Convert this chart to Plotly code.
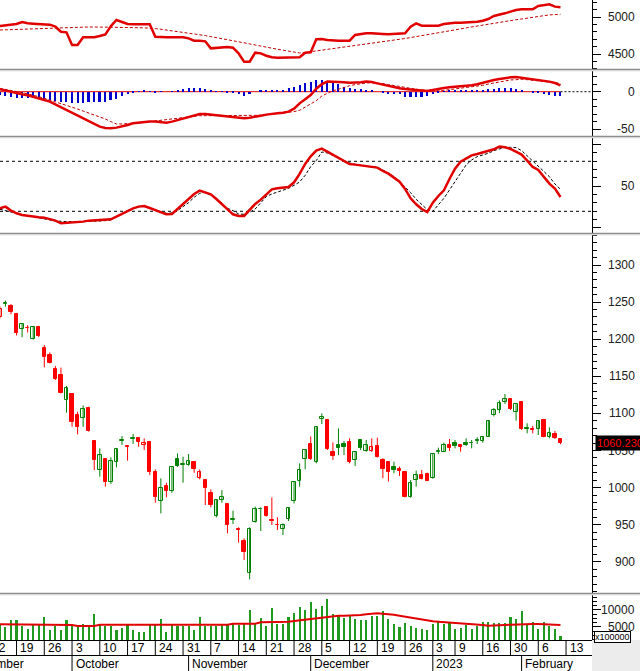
import plotly.graph_objects as go

W, H = 640, 671
AX_X = 592                      # pixel x of the right-hand axis line
X_RANGE = [2.02, 108.68]        # visible trading-day index range

# ---------------- data (trading-day index 0 = 12 Sep 2022, 103 = 10 Feb 2023) -------------
days = list(range(2, 104))
prev_close = 1245.0

opens = [1230, 1248, 1245.2, 1234, 1213.7, 1215.5, 1200.7, 1216.8, 1187.7, 1178.6,
         1159.8, 1151.8, 1118, 1126, 1097.8, 1093.4, 1107.7, 1062.8, 1023.7, 1038.6,
         1008, 1035, 1063.5, 1055.8, 1065.8, 1066.6, 1057.6, 1061.9, 1021.4, 981.9,
         1002, 995.8, 1038, 1030.5, 1030.4, 1034.4, 1012.5, 1010.2, 993.1, 961.7,
         983.3, 977.8, 956.5, 944.5, 928.1, 884.5, 954.1, 971.5, 973.4, 956,
         950, 943.8, 957.2, 981.9, 1009.3, 1038.2, 1059.1, 1034.2, 1091.9, 1091,
         1047.4, 1057.3, 1058.7, 1061.4, 1036.8, 1064.2, 1049.7, 1049.7, 1056, 1037.3,
         1035, 1027.5, 1024.8, 1021.6, 987, 1010.3, 1017, 1018.4, 1012.5, 1048.5,
         1048.4, 1057.4, 1060.6, 1057, 1060.6, 1060, 1063, 1063.3, 1068.7, 1097.3,
         1104, 1115.8, 1119.4, 1102.3, 1115.4, 1081, 1079, 1078.6, 1091.2, 1068.7,
         1072.3, 1066]
highs = [1244, 1252, 1247.4, 1235.5, 1221, 1219, 1216.5, 1218, 1192.2, 1182.2,
         1163.8, 1161.8, 1136.9, 1126.5, 1102.3, 1110.8, 1109, 1064.2, 1052.9, 1039,
         1040.7, 1052, 1069.6, 1057, 1072.3, 1067.5, 1066.4, 1062.5, 1024.5, 1012.5,
         1006.6, 1028.5, 1046.1, 1041.6, 1045.2, 1035, 1024.5, 1010.5, 997.6, 983.5,
         996.7, 978, 968.9, 946.5, 931.7, 946.5, 974.3, 973.4, 975.2, 986.8,
         959.9, 951.8, 973, 1007.5, 1032.7, 1051, 1068.9, 1081.5, 1100, 1091.5,
         1060.9, 1079.8, 1062.7, 1066.4, 1049, 1064.5, 1064.1, 1066.4, 1067.3, 1039.5,
         1035.5, 1035, 1028.4, 1022, 1010.3, 1022.9, 1023.7, 1020.2, 1045.5, 1053.8,
         1060.6, 1065.5, 1064.2, 1058.8, 1066.4, 1064.2, 1067.8, 1069.6, 1090, 1107.2,
         1117.5, 1126.1, 1120.3, 1112.5, 1116.3, 1086.7, 1083.1, 1090.5, 1092.6, 1081.3,
         1076.4, 1066.5]
lows = [1228, 1244, 1233.5, 1205, 1202.6, 1209, 1199.5, 1203, 1162, 1167.4,
        1145, 1127, 1101, 1082, 1071.7, 1082, 1075.4, 1023.7, 1014.7, 1001.3,
        1004.9, 1027.3, 1057.5, 1036.3, 1058.9, 1055, 1050.8, 1016.9, 979.6, 965.3,
        986.8, 993.1, 1028.1, 1006.6, 1029.5, 1020, 1011.1, 976.5, 973.4, 959.9,
        979.6, 938.3, 950.9, 925.8, 902.5, 876.4, 952.7, 941.5, 960.8, 949.6,
        942.9, 936.1, 955, 978.7, 1001.3, 1024.7, 1037.3, 1032.7, 1085.6, 1050.6,
        1037.3, 1043.9, 1043.9, 1032.7, 1029.2, 1050.6, 1048.3, 1048.3, 1040.5, 1012.6,
        1008.2, 1019.4, 1015.8, 987, 986.5, 1001.3, 1011, 1008.5, 1012, 1045.3,
        1048, 1049.3, 1052.9, 1048.4, 1056.1, 1052.9, 1058.8, 1060.6, 1068.5, 1095.9,
        1100.4, 1112.7, 1104.5, 1090.2, 1077.7, 1073.2, 1073.2, 1070.9, 1067.8, 1066.4,
        1065.5, 1058.5]
closes = [1241, 1248.6, 1236.2, 1208, 1220, 1214.7, 1215.9, 1204.7, 1176.4, 1168.3,
          1146, 1127.9, 1133.8, 1088.8, 1081.2, 1105.9, 1076.7, 1037.2, 1043.9, 1008,
          1035.8, 1051.6, 1064.2, 1055.2, 1066.4, 1061.8, 1060.7, 1021.4, 987.7, 999,
          995.8, 1028.1, 1029.5, 1031.3, 1035.3, 1025.4, 1020.6, 999.9, 976.5, 983.3,
          986.8, 950, 957.2, 942.9, 913.7, 943.8, 970.7, 971, 961.7, 955.4,
          949.1, 950, 972.1, 1007.1, 1023.7, 1050.8, 1038.2, 1081.4, 1094.6, 1051.5,
          1043, 1052.8, 1054.2, 1034.5, 1048.5, 1052.9, 1057.3, 1054.2, 1040.8, 1025.2,
          1021.6, 1023.9, 1022.5, 987.9, 1006.7, 1017, 1011.6, 1008.9, 1045.3, 1049.3,
          1057.4, 1053.8, 1056.5, 1055.2, 1057.4, 1060.6, 1063.7, 1067.8, 1089.8, 1104.9,
          1113.9, 1119.4, 1105.4, 1112.2, 1078.6, 1079.3, 1078, 1090.3, 1068.7, 1073.2,
          1066.4, 1060.23]

# volume, units of 100000 shares
volume = [5600, 5000, 6950, 7150, 5400, 4400, 5500, 5700, 7950, 4050,
          5400, 4050, 6950, 5700, 5400, 5990, 5700, 8800, 5700, 5400,
          5200, 4050, 4700, 5700, 4250, 3450, 3450, 5990, 5700, 7350,
          3450, 5600, 5400, 5400, 5400, 4050, 7950, 5400, 5400, 5400,
          5990, 5990, 5990, 5600, 5990, 10100, 5990, 7650, 5400, 10600,
          5990, 5990, 7950,
          9020, 10780, 9990, 12450, 10290, 11170, 13230, 8820, 8330, 7740,
          8530, 7350, 7060, 7060, 8330, 8330, 9700, 7350, 5780, 5100,
          6080, 5390, 4800, 4410, 4120, 5780, 6760, 5780, 6370, 4410,
          4800, 5590, 4410, 5390, 6570, 6370, 6080, 6080, 6080, 8040,
          7250, 9700, 5780, 6370, 4410, 6370, 5390, 4410, 2350]
volume_ma = [5780, 5780, 5780, 5780, 5780, 5780,
             5590, 5590, 5590, 5590, 5590, 5590, 5590, 5590,
             5290, 5290, 5290, 5290,
             5680, 5680, 5680, 5680, 5680, 5680, 5680, 5680, 5680, 5680, 5680, 5680,
             5680, 5680, 5680, 5680, 5680, 5680, 5680, 5680, 5680, 5680, 5680, 5680,
             5980, 5980, 5980, 5980, 5980,
             6370, 6370, 6370, 6370, 6370,
             6570, 6760, 6960, 7250, 7550, 7740, 7940, 8130, 8230, 8330,
             8330, 8330, 8330, 8530, 8720, 8920, 9020, 8920, 8820, 8620,
             8330, 8040, 7740, 7350, 7060, 6760, 6660, 6570, 6470, 6370,
             6270, 6080, 5880, 5780, 5680, 5590, 5390, 5390, 5490, 5590,
             5680, 5780, 5880, 5880, 5880, 5880, 5780, 5680, 5590, 5590]

# top panel line and its moving average
top_line = [4881, 4891, 4900, 4909, 4936, 4918, 4913, 4909, 4909, 4900,
            4872, 4804, 4795, 4623, 4623, 4727, 4727, 4727, 4745, 4768,
            4881, 4963, 4936, 4909, 4904, 4904, 4904, 4904, 4736, 4727,
            4727, 4727, 4727, 4727, 4713, 4682, 4682, 4673, 4577, 4582,
            4586, 4595, 4586, 4509, 4396, 4396, 4518, 4509, 4477, 4455,
            4450, 4450, 4450, 4450, 4455, 4518, 4523, 4700, 4704, 4691,
            4682, 4682, 4682, 4682, 4759, 4773, 4782, 4782, 4782, 4773,
            4768, 4773, 4777, 4782, 4872, 4918, 4886, 4886, 4886, 4886,
            4909, 4922, 4927, 4927, 4931, 4936, 4940, 4954, 4977, 5018,
            5031, 5054, 5077, 5099, 5108, 5108, 5108, 5154, 5163, 5177,
            5145, 5136]
top_ma = [4827, 4830, 4834, 4838, 4841, 4845, 4847, 4850, 4853, 4854,
          4857, 4861, 4864, 4867, 4868, 4868, 4868, 4868, 4868, 4868,
          4868, 4865, 4864, 4861, 4860, 4858, 4856, 4854, 4846, 4837,
          4827, 4817, 4808, 4798, 4789, 4777, 4763, 4751, 4737, 4724,
          4710, 4696, 4683, 4668, 4653, 4638, 4623, 4606, 4591, 4578,
          4565, 4552, 4540, 4527, 4514, 4521, 4531, 4541, 4555, 4564,
          4575, 4585, 4594, 4604, 4613, 4624, 4635, 4646, 4657, 4666,
          4677, 4688, 4699, 4711, 4724, 4736, 4748, 4762, 4775, 4789,
          4802, 4816, 4830, 4842, 4856, 4869, 4884, 4898, 4910, 4921,
          4932, 4944, 4955, 4967, 4977, 4989, 5000, 5012, 5023, 5033,
          5037, 5041]

macd = [3.2, 1.4, -0.4, -2.2, -3.5, -4.8, -6.6, -8.8, -11.0, -13.2,
        -16.8, -20.8, -24.3, -27.9, -31.9, -35.4, -38.9, -42.9, -46.5, -48.3,
        -48.7, -47.8, -46.5, -44.3, -42.1, -41.2, -40.3, -39.8, -39.8, -40.3,
        -41.2, -39.8, -37.6, -35.4, -33.2, -30.9, -29.6, -29.6, -30.5, -30.9,
        -31.9, -33.2, -34.1, -35.4, -35.4, -34.5, -32.7, -31.9, -30.5, -29.2,
        -28.8, -27.9, -26.5, -22.5, -15.5, -10.1, -4.4, 4.0,
        10.0, 13.4, 13.4, 13.0, 12.5, 12.0, 12.0, 12.5, 13.4, 13.0,
        11.1, 9.4, 7.6, 5.8, 4.5, 3.6, 2.7, 1.8, 0.9, 0.9,
        2.3, 4.0, 4.9, 5.8, 6.3, 6.7, 7.6, 8.5, 9.8, 12.0,
        13.8, 15.6, 16.9, 18.2, 19.1, 19.6, 18.7, 17.3, 16.5, 15.6,
        14.7, 13.4, 11.6, 8.5]
macd_signal = [4.5, 3.2, 1.4, 0.1, -1.3, -3.0, -4.4, -6.6, -8.8, -11.0,
               -13.2, -15.5, -17.7, -20.3, -23.0, -25.7, -28.3, -30.5, -33.2, -36.3,
               -39.8, -42.9, -42.9, -42.5, -42.1, -41.6, -40.7, -39.8, -38.9, -38.1,
               -37.6, -36.7, -35.8, -34.9, -33.6, -32.7, -31.9, -31.9, -31.9, -32.3,
               -32.3, -32.3, -32.3, -32.3, -31.9, -31.9, -31.4, -31.4, -30.9, -30.1,
               -29.2, -28.3, -27.4, -26.5, -24.8, -20.8, -16.3, -11.9,
               -5.7, -2.2, 1.4, 3.2, 5.8, 8.0, 9.4, 10.7, 11.6, 12.0,
               11.6, 10.7, 9.4, 8.5, 7.1, 5.8, 4.5, 3.2, 2.3, 1.8,
               1.4, 1.4, 1.8, 2.7, 3.6, 4.5, 4.9, 5.8, 7.1, 8.5,
               10.2, 11.6, 13.4, 15.1, 15.6, 16.0, 16.5, 16.0, 15.1, 14.7,
               13.8, 12.9, 12.0, 11.1]
macd_hist = [-4.4, -5.8, -7.1, -8.9, -8.9, -8.9, -8.0, -8.9, -9.3, -11.5,
             -12.4, -13.3, -13.7, -14.6, -14.6, -14.6, -13.7, -13.7, -13.7, -13.3,
             -11.5, -9.3, -5.8, -3.5, -1.3, 0.9, 2.2, 0.9, -1.3, -0.4,
             0, 0.9, 1.8, 3.5, 4.4, 4.4, 4.4, 3.1, 1.8, 0.9,
             0.9, -1.3, -1.8, -2.7, -5.3, -3.5, 0, 1.8, 1.8, 1.8,
             1.8, 2.7, 4.4, 6.6, 8.9, 12.0, 13.3, 15.1,
             15.1, 14.2, 12.9, 9.8, 6.2, 4.4, 3.1, 3.1, 1.8, 1.8,
             0, -1.8, -2.7, -2.7, -3.5, -6.6, -7.1, -7.1, -7.1, -5.8,
             -3.5, -1.3, 0.9, 1.8, 2.7, 2.7, 2.7, 2.7, 2.7, 2.7,
             3.1, 3.1, 4.4, 5.3, 4.4, 3.1, 1.8, 0, -1.8, -1.8,
             -2.7, -4.4, -5.8, -6.2]

stoch_k = [23.6, 25.6, 20.8, 17.6, 15.6, 14.4, 13.6, 12.8, 12.4, 10.8,
           8.8, 5.6, 6.0, 6.4, 7.2, 7.6, 8.8, 9.2, 9.2, 9.6,
           10.4, 13.6, 16.8, 20.4, 23.6, 25.6, 26.4, 24.0, 21.6, 18.8,
           16.4, 16.8, 22.8, 29.6, 35.2, 40.8, 44.8, 42.8, 40.4, 34.8,
           28.8, 21.6, 16.4, 14.4, 14.4, 21.6, 28.8, 34.0, 40.0, 46.4,
           47.6, 48.0, 49.2, 54.8, 64.8, 76.8, 86.0, 92.8,
           95.2, 91.6, 88.0, 84.4, 80.4, 76.8, 76.0, 75.2, 74.0, 73.2,
           72.4, 68.4, 65.2, 60.4, 55.6, 46.8, 35.6, 28.4, 22.8, 19.0,
           30.4, 38.4, 45.2, 58.8, 71.2, 79.6, 83.6, 87.2, 88.8, 90.4,
           92.0, 94.4, 97.6, 96.8, 94.8, 91.6, 88.0, 80.8, 73.2, 69.6,
           61.6, 53.2, 47.2, 37.2]
stoch_d = [22.4, 20.8, 19.2, 17.6, 15.6, 14.4, 13.6, 12.0, 10.8, 9.6,
           8.4, 7.6, 7.6, 7.6, 7.6, 7.6, 7.6, 8.0, 8.4, 8.8,
           9.6, 13.6, 17.6, 20.8, 23.6, 26.0, 25.6, 24.0, 21.6, 19.6,
           17.6, 18.0, 20.8, 25.6, 30.4, 36.8, 41.6, 42.8, 39.2, 35.6,
           29.6, 23.6, 20.8, 16.8, 16.4, 18.8, 22.8, 29.6, 37.6, 40.8,
           43.2, 45.2, 47.6, 51.2, 55.2, 63.2, 73.6, 80.8,
           91.2, 90.0, 87.2, 84.4, 80.8, 78.0, 76.4, 74.8, 74.0, 73.2,
           72.8, 69.6, 65.2, 61.6, 55.6, 49.6, 42.4, 34.4, 28.4, 22.0,
           20.0, 28.0, 35.6, 45.6, 55.6, 65.6, 75.6, 81.6, 85.6, 87.6,
           89.6, 92.8, 95.2, 96.8, 96.8, 96.4, 92.8, 86.4, 80.0, 74.8,
           67.6, 61.6, 52.8, 46.4]

week_ticks = [0, 5, 10, 15, 20, 25, 30, 35, 40, 45, 50, 55, 60, 65, 70, 75, 80, 84, 89, 94, 99, 104]
week_labels = ["12", "19", "26", "3", "10", "17", "24", "31", "7", "14", "21", "28",
               "5", "12", "19", "26", "3", "9", "16", "30", "6", "13"]
month_ticks = [-5, 15, 36, 58, 80, 96]
month_labels = ["September", "October", "November", "December", "2023", "February"]

# ---------------- helpers ----------------
def py(px):
    return 1 - px / H

def pxp(px):
    return px / AX_X

def day_px(d):
    return (d - X_RANGE[0]) / (X_RANGE[1] - X_RANGE[0]) * AX_X

FONT = "Arial, Liberation Sans, sans-serif"
RED = "#ff0000"
LRED = "#e00000"
GREEN = "#008000"
VGREEN = "#1f9a1f"
BLUE = "#0000cc"

fig = go.Figure()

# ---- panel 1
fig.add_trace(go.Scatter(x=days, y=top_ma, mode="lines", yaxis="y",
                         line=dict(color="#c00000", width=1, dash="3px,2px"), hoverinfo="skip"))
fig.add_trace(go.Scatter(x=days, y=top_line, mode="lines", yaxis="y",
                         line=dict(color=LRED, width=2.5), hoverinfo="skip"))

# ---- panel 2 (MACD)
fig.add_trace(go.Bar(x=days, y=macd_hist, width=0.36, yaxis="y2",
                     marker=dict(color=BLUE, line=dict(width=0)), hoverinfo="skip"))
fig.add_trace(go.Scatter(x=days, y=macd_signal, mode="lines", yaxis="y2",
                         line=dict(color="#c00000", width=1, dash="3px,2px"), hoverinfo="skip"))
fig.add_trace(go.Scatter(x=days, y=macd, mode="lines", yaxis="y2",
                         line=dict(color=LRED, width=2.5), hoverinfo="skip"))

# ---- panel 3 (stochastic)
fig.add_trace(go.Scatter(x=days, y=stoch_d, mode="lines", yaxis="y3",
                         line=dict(color="#000000", width=1, dash="3px,2px"), hoverinfo="skip"))
fig.add_trace(go.Scatter(x=days, y=stoch_k, mode="lines", yaxis="y3",
                         line=dict(color=LRED, width=2.5), hoverinfo="skip"))

# ---- panel 4 (candles)
pcs = [prev_close] + closes[:-1]
wick = {"g": ([], []), "r": ([], [])}
bodies = {("g", True): ([], [], []), ("g", False): ([], [], []),
          ("r", True): ([], [], []), ("r", False): ([], [], [])}
for d, o, h, l, c, p in zip(days, opens, highs, lows, closes, pcs):
    col = "g" if c >= p else "r"
    hollow = c > o
    wx, wy = wick[col]
    wx += [d, d, None]
    wy += [l, h, None]
    lo, hi = min(o, c), max(o, c)
    if hi - lo < 0.9:
        mid = (hi + lo) / 2
        lo, hi = mid - 0.45, mid + 0.45
    bx, bb, bh = bodies[(col, hollow)]
    bx.append(d)
    bb.append(lo)
    bh.append(hi - lo)

for col, c in (("g", GREEN), ("r", RED)):
    fig.add_trace(go.Scatter(x=wick[col][0], y=wick[col][1], mode="lines", yaxis="y4",
                             line=dict(color=c, width=1), hoverinfo="skip"))
for (col, hollow), (bx, bb, bh) in bodies.items():
    c = GREEN if col == "g" else RED
    fig.add_trace(go.Bar(x=bx, y=bh, base=bb, width=0.62, yaxis="y4",
                         marker=dict(color="#ffffff" if hollow else c, line=dict(color=c, width=1)),
                         hoverinfo="skip"))

# ---- panel 5 (volume)
fig.add_trace(go.Bar(x=days, y=volume, width=0.38, yaxis="y5",
                     marker=dict(color=VGREEN, line=dict(width=0)), hoverinfo="skip"))
fig.add_trace(go.Scatter(x=days, y=volume_ma, mode="lines", yaxis="y5",
                         line=dict(color=LRED, width=2), hoverinfo="skip"))


def yax(top, bot, rng, dtick, minor):
    return dict(domain=[py(bot), py(top)], range=rng, side="right", anchor="x",
                showgrid=False, zeroline=False, showline=True, linecolor="black", linewidth=1,
                ticks="outside", ticklen=8, tickcolor="black", tickmode="linear",
                tick0=0, dtick=dtick, showticklabels=False, fixedrange=True,
                minor=dict(dtick=minor, tick0=0, ticks="outside", ticklen=4,
                           tickcolor="black", showgrid=False))

# pixel rows: P1 0-69, P2 71-136, P3 138-233, P4 235-593, P5 595-640
R1 = [5235.6 - 13.62 * 69, 5235.6]
R2 = [-(136 - 91.7) * 1.33, -(71 - 91.7) * 1.33]
R3 = [273.56 - 1.2 * 233, 273.56 - 1.2 * 138]
R4 = [1300 - (593 - 265) / 0.742, 1300 - (235 - 265) / 0.742]
R5 = [(644 - 640) * 294, (644 - 595) * 294]

annotations = []
def axis_label(val, yref, text):
    annotations.append(dict(x=pxp(637), xref="paper", xanchor="right", y=val, yref=yref,
                            yanchor="middle", text=text, showarrow=False,
                            font=dict(family=FONT, size=12, color="#202020")))

for v in (5000, 4500):
    axis_label(v, "y", str(v))
for v in (0, -50):
    axis_label(v, "y2", str(v))
axis_label(50, "y3", "50")
for v in range(900, 1301, 50):
    axis_label(v, "y4", str(v))
for v in (10000, 5000):
    axis_label(v, "y5", str(v))

# last price tag
annotations.append(dict(x=pxp(595), xref="paper", xanchor="left", y=closes[-1], yref="y4",
                        yanchor="middle", text="%.3f" % closes[-1], showarrow=False,
                        bgcolor="#000000", borderpad=1,
                        font=dict(family=FONT, size=11, color=RED)))
# volume multiplier box
annotations.append(dict(x=pxp(594), xref="paper", xanchor="left", y=py(637), yref="paper",
                        yanchor="middle", text="x100000", showarrow=False,
                        bgcolor="#ffffff", bordercolor="#000000", borderwidth=1, borderpad=0,
                        font=dict(family=FONT, size=9, color="#000000")))

# date axis labels
for t, lab in zip(week_ticks, week_labels):
    annotations.append(dict(x=pxp(day_px(t) + 1.5), xref="paper", xanchor="left",
                            y=py(648), yref="paper", yanchor="middle", text=lab, showarrow=False,
                            font=dict(family=FONT, size=12, color="#000000")))
for t, lab in zip(month_ticks, month_labels):
    annotations.append(dict(x=pxp(day_px(t) + 1.5), xref="paper", xanchor="left",
                            y=py(664), yref="paper", yanchor="middle", text=lab, showarrow=False,
                            font=dict(family=FONT, size=12, color="#000000")))

shapes = []
# gray block under the right axis
shapes.append(dict(type="rect", xref="paper", yref="paper", x0=pxp(AX_X), x1=pxp(W),
                   y0=py(H), y1=py(640), fillcolor="#ececec", line=dict(width=0), layer="below"))
# panel separators
for yy in (70, 137, 234, 594):
    shapes.append(dict(type="line", xref="paper", yref="paper", x0=0, x1=pxp(W),
                       y0=py(yy - 0.5), y1=py(yy - 0.5), line=dict(color="#8c8c8c", width=1.5)))
    shapes.append(dict(type="line", xref="paper", yref="paper", x0=0, x1=pxp(W),
                       y0=py(yy + 0.8), y1=py(yy + 0.8), line=dict(color="#d4d4d4", width=1)))
# date area frame
for yy in (640.5, 655.5):
    shapes.append(dict(type="line", xref="paper", yref="paper", x0=0, x1=1,
                       y0=py(yy), y1=py(yy), line=dict(color="#000000", width=1)))
for t in week_ticks:
    xp = pxp(day_px(t))
    shapes.append(dict(type="line", xref="paper", yref="paper", x0=xp, x1=xp,
                       y0=py(655.5), y1=py(640.5), line=dict(color="#000000", width=1)))
for t in month_ticks:
    xp = pxp(day_px(t))
    shapes.append(dict(type="line", xref="paper", yref="paper", x0=xp, x1=xp,
                       y0=py(H), y1=py(655.5), line=dict(color="#000000", width=1)))
# MACD zero line and stochastic 20/80 levels
shapes.append(dict(type="line", xref="x", yref="y2", x0=X_RANGE[0], x1=days[-1], y0=0, y1=0,
                   line=dict(color=LRED, width=1), layer="below"))
shapes.append(dict(type="line", xref="x", yref="y2", x0=days[-1], x1=X_RANGE[1], y0=0, y1=0,
                   line=dict(color="#000000", width=1, dash="2px,2px"), layer="below"))
for lv in (80, 20):
    shapes.append(dict(type="line", xref="x", yref="y3", x0=X_RANGE[0], x1=X_RANGE[1], y0=lv, y1=lv,
                       line=dict(color="#000000", width=1, dash="3px,3px"), layer="below"))

fig.update_layout(
    width=W, height=H, margin=dict(l=0, r=W - AX_X, t=0, b=0),
    paper_bgcolor="#ffffff", plot_bgcolor="#ffffff",
    showlegend=False, barmode="overlay", bargap=0,
    xaxis=dict(range=X_RANGE, visible=False, fixedrange=True, domain=[0, 1]),
    yaxis=yax(0, 69, R1, 500, 100),
    yaxis2=yax(71, 136, R2, 50, 10),
    yaxis3=yax(138, 233, R3, 50, 10),
    yaxis4=yax(235, 593, R4, 50, 10),
    yaxis5=yax(595, 640, R5, 5000, 1250),
    annotations=annotations, shapes=shapes,
    font=dict(family=FONT, size=12),
)

fig.write_html("out.html")
